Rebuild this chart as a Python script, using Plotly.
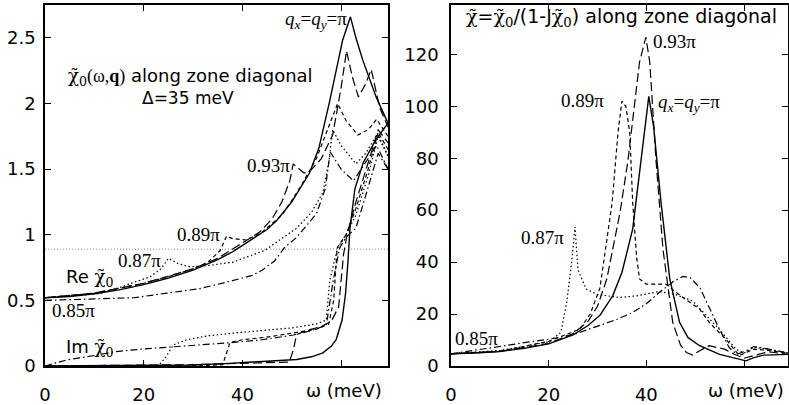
import plotly.graph_objects as go

# ---------------- Left panel: chi0 (Re and Im) ----------------
w_re_pi = [0, 5, 10, 15, 20, 25, 30, 35, 38, 40, 45, 47, 50, 53.6, 55.5, 57.7, 60.3, 61.9, 63, 64.4, 67.1, 69.5]
re_pi = [0.52, 0.53, 0.55, 0.58, 0.62, 0.67, 0.73, 0.81, 0.87, 0.92, 1.04, 1.11, 1.25, 1.47, 1.66, 2.02, 2.48, 2.66, 2.5, 2.33, 2.05, 1.85]

w_re_093 = [0, 10, 20, 30, 35, 40, 43.5, 46, 48, 49.6, 50.3, 51.5, 52.5, 53.6, 56, 58.3, 60, 61.1, 62.3, 63.5, 65, 66.1, 67.8, 69.5]
re_093 = [0.52, 0.555, 0.63, 0.74, 0.82, 0.94, 1.02, 1.12, 1.25, 1.41, 1.54, 1.5, 1.47, 1.48, 1.58, 1.76, 2.12, 2.4, 2.2, 2.05, 2.15, 2.26, 1.97, 1.82]

w_re_089 = [0, 10, 20, 25, 30, 33, 35.5, 36.8, 38, 40.8, 44, 48, 50, 52, 55, 57, 59.3, 61, 63.4, 65.5, 67.2, 69.5]
re_089 = [0.52, 0.555, 0.63, 0.68, 0.74, 0.79, 0.88, 0.99, 0.97, 0.96, 1.02, 1.15, 1.26, 1.38, 1.58, 1.78, 2.0, 1.87, 1.76, 1.8, 1.88, 1.75]

w_re_087 = [0, 11, 15.2, 21.3, 23.5, 25, 27, 29.4, 33, 38, 44.5, 51, 54, 56.3, 57.5, 58.3, 60, 63, 65, 67.4, 69.5]
re_087 = [0.52, 0.55, 0.6, 0.68, 0.74, 0.82, 0.78, 0.755, 0.765, 0.79, 0.88, 1.05, 1.17, 1.32, 1.55, 1.8, 1.68, 1.54, 1.62, 1.77, 1.6]

w_re_085 = [0, 11, 18, 24.7, 31.4, 38, 42, 44, 46.5, 48.5, 51, 55, 56.8, 57.8, 60, 62.5, 65, 67.2, 69.5]
re_085 = [0.5, 0.51, 0.52, 0.555, 0.59, 0.65, 0.69, 0.73, 0.8, 0.9, 0.98, 1.16, 1.35, 1.63, 1.5, 1.41, 1.55, 1.68, 1.5]

w_im_pi = [0, 20, 30, 37.4, 45, 51, 54, 56.3, 58, 59, 60.2, 60.9, 61.4, 61.8, 62.8, 64.5, 67, 69.5]
im_pi = [0, 0.003, 0.008, 0.02, 0.035, 0.05, 0.07, 0.1, 0.15, 0.2, 0.35, 0.55, 0.8, 1.05, 1.35, 1.55, 1.72, 1.85]

w_im_093 = [0, 30, 49.5, 50.3, 51, 53, 56, 58, 59.5, 60.5, 61.2, 63, 65.5, 67.5, 69.5]
im_093 = [0, 0.01, 0.03, 0.12, 0.24, 0.27, 0.3, 0.34, 0.45, 0.85, 1.0, 1.25, 1.55, 1.8, 1.7]

w_im_089 = [0, 30, 36, 36.8, 37.5, 40, 45, 50, 55, 57.5, 58.5, 59.2, 61, 63, 65.5, 67.5, 69.5]
im_089 = [0, 0.0, 0.01, 0.1, 0.18, 0.2, 0.22, 0.25, 0.28, 0.32, 0.5, 0.9, 1.0, 1.2, 1.5, 1.78, 1.65]

w_im_087 = [0, 23, 24.5, 26, 28.7, 33, 38, 44, 50, 55, 57, 57.7, 59.3, 61, 63, 65.5, 67.5, 69.5]
im_087 = [0, 0.0, 0.07, 0.16, 0.2, 0.23, 0.25, 0.27, 0.29, 0.32, 0.35, 0.65, 0.9, 1.0, 1.15, 1.45, 1.75, 1.6]

w_im_085 = [0, 4.4, 10, 14.5, 20, 26, 32, 37.4, 44, 50.3, 54, 57, 58.4, 59.7, 61, 63, 65, 67.5, 69.5]
im_085 = [0, 0.046, 0.08, 0.11, 0.13, 0.147, 0.16, 0.177, 0.2, 0.236, 0.27, 0.31, 0.65, 0.9, 0.98, 1.05, 1.3, 1.62, 1.5]

ref_level = 0.89

# ---------------- Right panel: chi ----------------
w_chi_pi = [0, 5, 10, 15, 20, 25, 28, 30.5, 33.1, 35, 37.2, 39, 40.5, 41.5, 43, 44.8, 46.8, 48.5, 50.9, 55, 60.4, 62, 64, 66, 69]
chi_pi = [4.7, 5.0, 5.6, 6.8, 8.5, 12, 15.5, 19.5, 27, 36, 52.7, 80, 103.8, 92, 63, 33.5, 16.8, 11, 7.8, 4.5, 2.0, 3.2, 4.2, 4.3, 4.5]

w_chi_093 = [0, 10, 20, 25, 28, 30, 31.9, 34.6, 36.2, 38.6, 39.9, 40.7, 42, 43.4, 45.4, 47, 48.2, 49.5, 51, 52.9, 56, 58, 60, 62, 65, 69]
chi_093 = [4.7, 5.6, 8.7, 12.5, 17, 23, 33.5, 59, 78.6, 117, 126.6, 117, 78.6, 45, 16.8, 8, 5.2, 4.2, 6, 7.8, 6.5, 4.5, 3, 4, 5.5, 4.5]

w_chi_089 = [0, 10, 20, 24, 26.4, 28.5, 30.5, 33, 34.2, 35, 35.8, 36.6, 37.2, 38, 38.6, 40, 44, 47, 50.9, 53, 56.3, 59, 62, 65, 69]
chi_089 = [4.7, 5.7, 9.5, 12.5, 14.2, 20, 30, 63, 90, 102, 100, 90, 63, 42, 33.5, 31.5, 31.5, 27, 21.9, 16.5, 10.3, 4, 6.5, 6, 5]

w_chi_087 = [0, 10, 15, 20.3, 22.5, 23.7, 24.7, 25.4, 26, 27.7, 30, 34.5, 38, 42.7, 46, 49.5, 51, 53, 55, 58.4, 60, 62, 65, 69]
chi_087 = [4.7, 6, 7.5, 9.5, 13, 24.5, 40, 53.5, 37, 29.6, 27.5, 26.4, 27, 28.7, 27.5, 25, 22, 18, 14, 6.4, 5, 7.2, 6.5, 5]

w_chi_085 = [0, 5, 10, 15, 20, 25, 30.5, 34, 37.2, 40, 43.4, 44.2, 45.5, 47.5, 49, 51, 53, 55, 57, 58.5, 60, 62, 65, 69]
chi_085 = [4.7, 6, 7.5, 9, 10.3, 12, 15.6, 18, 20.6, 24, 29.5, 30.5, 32.5, 34.5, 34, 30, 22, 14, 7, 4.5, 5.5, 7.5, 6.5, 5]

x_ticks = [0, 20, 40, 60]
x_tick_text = ["0", "20", "40", ""]
x_title = "ω (meV)"
left_y_ticks = [0, 0.5, 1, 1.5, 2, 2.5]
left_y_text = ["0", "0.5", "1", "1.5", "2", "2.5"]
right_y_ticks = [0, 20, 40, 60, 80, 100, 120]

styles = {
    "pi": dict(color="black", width=1.4, dash="solid"),
    "093": dict(color="black", width=1.2, dash="9px,4px"),
    "089": dict(color="black", width=1.2, dash="4px,3px"),
    "087": dict(color="black", width=1.2, dash="1.5px,2.5px"),
    "085": dict(color="black", width=1.2, dash="7px,3px,1.5px,3px"),
}

fig = go.Figure()

left_series = [
    ("pi", w_re_pi, re_pi), ("093", w_re_093, re_093), ("089", w_re_089, re_089),
    ("087", w_re_087, re_087), ("085", w_re_085, re_085),
    ("pi", w_im_pi, im_pi), ("093", w_im_093, im_093), ("089", w_im_089, im_089),
    ("087", w_im_087, im_087), ("085", w_im_085, im_085),
]
for key, xs, ys in left_series:
    fig.add_trace(go.Scatter(x=xs, y=ys, mode="lines", line=styles[key],
                             xaxis="x", yaxis="y", showlegend=False, hoverinfo="skip"))

fig.add_trace(go.Scatter(x=[0, 69.5], y=[ref_level, ref_level], mode="lines",
                         line=dict(color="#555", width=0.7, dash="1px,2px"),
                         xaxis="x", yaxis="y", showlegend=False, hoverinfo="skip"))

right_series = [("pi", w_chi_pi, chi_pi), ("093", w_chi_093, chi_093), ("089", w_chi_089, chi_089),
                ("087", w_chi_087, chi_087), ("085", w_chi_085, chi_085)]
for key, xs, ys in right_series:
    fig.add_trace(go.Scatter(x=xs, y=ys, mode="lines", line=styles[key],
                             xaxis="x2", yaxis="y2", showlegend=False, hoverinfo="skip"))

SANS = "DejaVu Sans, Liberation Sans, sans-serif"
SERIF = "Liberation Serif, Times New Roman, serif"
tickfont = dict(family=SANS, size=18, color="black")

axis_common = dict(showline=True, linecolor="black", linewidth=1.5, mirror="ticks",
                   ticks="inside", ticklen=6, tickwidth=1.2, tickcolor="black",
                   showgrid=False, zeroline=False, tickfont=tickfont, automargin=False)

fig.update_layout(
    width=789, height=405,
    margin=dict(l=45, r=1, t=5, b=39),
    paper_bgcolor="white", plot_bgcolor="white",
    hovermode=False,
    xaxis=dict(domain=[0, 0.4616], range=[0, 69.5], tickvals=x_ticks, ticktext=x_tick_text,
               anchor="y", ticklabelstandoff=12, **axis_common),
    yaxis=dict(domain=[0, 1], range=[0, 2.75], tickvals=left_y_ticks, ticktext=left_y_text,
               anchor="x", ticklabelstandoff=4, **axis_common),
    xaxis2=dict(domain=[0.5464, 1.0], range=[0, 69], tickvals=x_ticks, ticktext=x_tick_text,
                anchor="y2", ticklabelstandoff=12, **axis_common),
    yaxis2=dict(domain=[0, 1], range=[0, 139], tickvals=right_y_ticks,
                anchor="x2", ticklabelstandoff=7, **axis_common),
)

CHI_FONT = "DejaVu Serif"
chi0 = '<span style="font-family:\'' + CHI_FONT + '\'">χ\u0303<sub>0</sub></span>'
chi = '<span style="font-family:\'' + CHI_FONT + '\'">χ\u0303</span>'
qpi = '<i>q</i><sub><i>x</i></sub>=<i>q</i><sub><i>y</i></sub>=π'

def ann(text, x, y, xref, yref, xanchor="center", family=SANS, size=18):
    fig.add_annotation(text=text, x=x, y=y, xref=xref, yref=yref, showarrow=False,
                       xanchor=xanchor, yanchor="middle", borderpad=0,
                       font=dict(family=family, size=size, color="black"))

# axis titles placed where the 60 tick label would be
ann(x_title, 0.4549, -0.069, "paper", "paper", xanchor="right", size=18)
ann(x_title, 0.996, -0.069, "paper", "paper", xanchor="right", size=18)

# left panel labels
ann(qpi, 61.4, 2.635, "x", "y", xanchor="right", family=SERIF, size=19)
ann(chi0 + '<span style="font-family:\'Liberation Serif\'">(ω,<b>q</b>)</span> along zone diagonal',
    29.4, 2.205, "x", "y", size=18)
ann("Δ=35 meV", 29.0, 2.04, "x", "y", size=17)
ann("0.93π", 45.2, 1.53, "x", "y", family=SERIF, size=19)
ann("0.89π", 31.2, 1.005, "x", "y", family=SERIF, size=19)
ann("0.87π", 19.25, 0.80, "x", "y", family=SERIF, size=19)
ann("Re " + chi0, 4.0, 0.67, "x", "y", xanchor="left", size=18)
ann("0.85π", 5.7, 0.42, "x", "y", family=SERIF, size=19)
ann("Im " + chi0, 4.0, 0.137, "x", "y", xanchor="left", size=18)

# right panel labels
ann(chi + "=" + chi0 + "/(1-J" + chi0 + ") along zone diagonal", 35.0, 134.0, "x2", "y2", size=19)
ann("0.93π", 41.2, 124.8, "x2", "y2", xanchor="left", family=SERIF, size=19)
ann("0.89π", 31.5, 102.4, "x2", "y2", xanchor="right", family=SERIF, size=19)
ann(qpi, 42.2, 101.3, "x2", "y2", xanchor="left", family=SERIF, size=19)
ann("0.87π", 23.3, 49.3, "x2", "y2", xanchor="right", family=SERIF, size=19)
ann("0.85π", 0.6, 10.5, "x2", "y2", xanchor="left", family=SERIF, size=19)

fig.write_html("out.html", config={"displayModeBar": False},
               post_script="document.body.style.margin='0px';")
